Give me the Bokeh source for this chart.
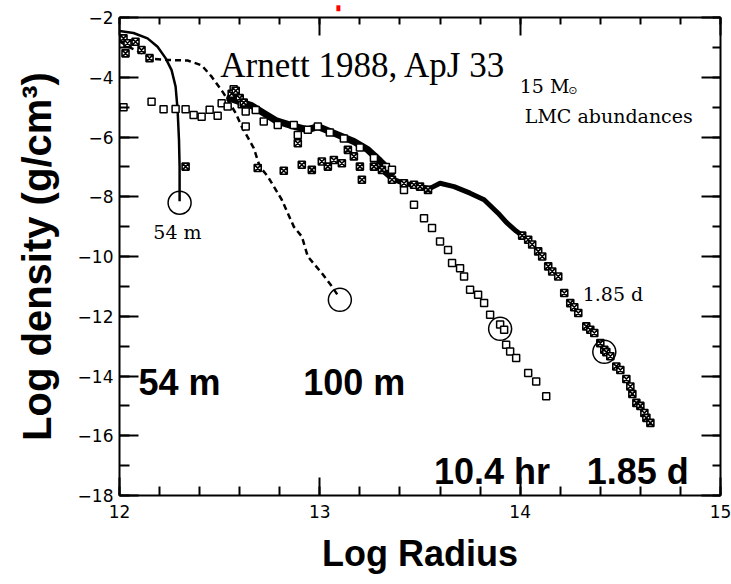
from bokeh.plotting import figure
from bokeh.models import LinearAxis, SingleIntervalTicker, Label, CustomJSTickFormatter, Title
from bokeh.embed import file_html
from bokeh.resources import INLINE

# ---- data (log radius, log density) ----
# 54 m profile (solid line)
r54_x = [12.00, 12.07, 12.14, 12.19, 12.23, 12.26, 12.28, 12.29, 12.297, 12.30, 12.30]
r54_y = [-2.45, -2.52, -2.70, -2.98, -3.36, -3.76, -4.31, -5.09, -6.10, -7.00, -8.15]

# 100 m profile (dashed line)
r100_x = [12.00, 12.05, 12.10, 12.16, 12.24, 12.34, 12.41, 12.46, 12.52, 12.58, 12.61,
          12.67, 12.70, 12.74, 12.81, 12.87, 12.91, 12.94, 13.01, 13.06, 13.09]
r100_y = [-2.80, -3.00, -3.15, -3.38, -3.42, -3.44, -3.60, -3.98, -4.54, -5.20, -5.65,
          -6.37, -6.99, -7.32, -8.10, -9.00, -9.33, -10.00, -10.56, -11.00, -11.30]

# 10.4 hr profile (open squares)
hr_x = [12.02, 12.16, 12.22, 12.28, 12.33, 12.37, 12.41, 12.45, 12.49, 12.51, 12.54, 12.57,
        12.58, 12.61, 12.63, 12.63, 12.68, 12.72, 12.79, 12.87, 12.89, 12.94, 12.99, 13.05,
        13.12, 13.20, 13.27, 13.33, 13.36, 13.42, 13.47, 13.52, 13.56, 13.60, 13.64, 13.66,
        13.70, 13.72, 13.75, 13.79, 13.82, 13.85, 13.90, 13.92, 13.93, 13.95, 13.98, 14.04,
        14.08, 14.13]
hr_y = [-5.00, -4.82, -5.07, -5.06, -5.07, -5.26, -5.32, -5.09, -5.29, -4.87, -4.98, -4.40,
        -4.54, -4.90, -5.15, -5.65, -5.10, -5.48, -5.60, -5.60, -5.93, -5.76, -5.65, -5.85,
        -6.05, -6.35, -6.70, -7.00, -7.10, -7.77, -8.27, -8.72, -9.05, -9.50, -9.78, -10.22,
        -10.39, -10.67, -11.11, -11.28, -11.56, -11.95, -12.28, -12.45, -12.95, -13.18, -13.40, -13.90,
        -14.18, -14.68]
# dense part of the 10.4 hr profile
hr_band_x = [12.55, 12.60, 12.66, 12.72, 12.78, 12.86, 12.94, 12.99, 13.07, 13.17, 13.24, 13.30, 13.36]
hr_band_y = [-4.70, -4.82, -4.95, -5.20, -5.45, -5.62, -5.76, -5.65, -5.87, -6.15, -6.43, -6.80, -7.20]

# 1.85 d profile (crossed squares)
d_x = [12.02, 12.03, 12.04, 12.08, 12.11, 12.15, 12.33, 12.56, 12.58, 12.60, 12.62, 12.69,
       12.82, 12.89, 12.91, 12.96, 13.01, 13.04, 13.07, 13.11, 13.14, 13.17, 13.20, 13.21,
       13.27, 13.31, 13.36, 13.42, 13.47, 13.50, 13.54, 14.01, 14.04, 14.06, 14.09, 14.11,
       14.14, 14.16, 14.19, 14.22, 14.25, 14.27, 14.29, 14.33, 14.35, 14.37, 14.40, 14.42,
       14.43, 14.45, 14.48, 14.50, 14.53, 14.55, 14.56, 14.58, 14.60, 14.62, 14.63, 14.65]
d_y = [-2.70, -3.20, -2.86, -2.81, -3.09, -3.36, -6.99, -4.55, -4.45, -4.70, -4.85, -7.04,
       -7.13, -6.21, -6.93, -7.10, -6.82, -6.99, -6.77, -6.88, -6.43, -6.65, -6.99, -7.43,
       -6.99, -7.10, -7.43, -7.55, -7.60, -7.66, -7.77, -9.30, -9.44, -9.60, -9.83, -10.00,
       -10.33, -10.50, -10.67, -11.22, -11.56, -11.70, -11.89, -12.34, -12.45, -12.56, -12.90, -13.12,
       -13.20, -13.34, -13.68, -13.80, -14.10, -14.35, -14.60, -14.90, -15.00, -15.24, -15.40, -15.57]
# dense part of the 1.85 d profile
d_band_x = [13.30, 13.36, 13.42, 13.50, 13.55, 13.60, 13.67, 13.75, 13.82, 13.89, 13.93, 13.98, 14.02]
d_band_y = [-7.05, -7.40, -7.55, -7.66, -7.72, -7.55, -7.66, -7.88, -8.10, -8.55, -8.85, -9.15, -9.35]

# photosphere markers (circles)
circ_x = [12.30, 13.10, 13.90, 14.42]
circ_y = [-8.20, -11.45, -12.42, -13.19]

# axis settings
x_ticks_interval = 1
y_ticks_interval = 2

p = figure(width=731, height=584, x_range=(12, 15), y_range=(-18, -2),
           output_backend="svg", toolbar_location=None,
           min_border_left=118, min_border_right=11, min_border_top=17, min_border_bottom=88,
           x_axis_location=None, y_axis_location=None)
p.xgrid.visible = False
p.ygrid.visible = False
p.outline_line_color = None
p.background_fill_color = "white"
p.border_fill_color = "white"

minus_fmt = CustomJSTickFormatter(code="return tick < 0 ? '\\u2212' + Math.abs(tick) : String(tick);")
blank_fmt = CustomJSTickFormatter(code="return '';")


def make_axis(interval, minor, fmt, maj_in, min_in, show_labels):
    ax = LinearAxis(ticker=SingleIntervalTicker(interval=interval, num_minor_ticks=minor),
                    formatter=fmt)
    ax.axis_line_width = 2
    ax.axis_line_color = "black"
    ax.major_tick_in = maj_in
    ax.major_tick_out = 0
    ax.minor_tick_in = min_in
    ax.minor_tick_out = 0
    ax.major_tick_line_width = 2
    ax.minor_tick_line_width = 2
    if show_labels:
        ax.major_label_text_font = "DejaVu Sans"
        ax.major_label_text_font_size = "17px"
        ax.major_label_text_color = "black"
    else:
        ax.major_label_text_font_size = "1px"
        ax.major_label_standoff = 0
    return ax


left = make_axis(y_ticks_interval, 2, minus_fmt, 19, 10, True)
left.major_label_standoff = 6
bottom = make_axis(x_ticks_interval, 5, minus_fmt, 18, 9, True)
bottom.major_label_standoff = 9
top = make_axis(x_ticks_interval, 5, blank_fmt, 18, 7, False)
right = make_axis(y_ticks_interval, 2, blank_fmt, 19, 8, False)
p.add_layout(left, "left")
p.add_layout(bottom, "below")
p.add_layout(top, "above")
p.add_layout(right, "right")

# axis titles and the red mark at the top edge
p.add_layout(Title(text="Log Radius", text_font="Liberation Sans", text_font_size="36px",
                   text_font_style="bold", text_color="black", align="center",
                   offset=6, standoff=21), "below")
p.add_layout(Title(text="Log density (g/cm\u00b3)", text_font="Liberation Sans",
                   text_font_size="40px", text_font_style="bold", text_color="black",
                   align="center", vertical_align="top", offset=-34, standoff=28), "left")
p.add_layout(Title(text="\u2588", text_font="DejaVu Sans", text_font_size="5px",
                   text_color="red", align="left", vertical_align="top",
                   offset=217, standoff=9), "above")

# dense bands
p.line(hr_band_x, hr_band_y, line_color="black", line_width=7, line_join="round", line_cap="round")
p.line(d_band_x, d_band_y, line_color="black", line_width=5, line_join="round", line_cap="round")

# profiles
p.line(r54_x, r54_y, line_color="black", line_width=2.5)
p.line(r100_x, r100_y, line_color="black", line_width=2.5, line_dash="6 4")
p.scatter(hr_x, hr_y, marker="square", size=7, fill_color="white", line_color="black", line_width=1.5)
p.scatter(d_x, d_y, marker="square_x", size=7, fill_color="white", line_color="black", line_width=1.6)
p.scatter(circ_x, circ_y, marker="circle", size=23, fill_color=None, line_color="black", line_width=1.5)


def lab(x, y, text, font, size, style="normal", color="black", align="left", **kw):
    p.add_layout(Label(x=x, y=y, text=text, text_font=font, text_font_size=size,
                       text_font_style=style, text_color=color, text_align=align,
                       text_baseline="alphabetic", **kw))


# scanned figure annotations
lab(12.503, -3.603, "Arnett 1988, ApJ 33", "Liberation Serif", "35px")
lab(13.998, -4.305, "15 M", "DejaVu Serif", "19px")
lab(14.24, -4.438, "\u2299", "DejaVu Sans", "11px")
lab(14.023, -5.307, "LMC abundances", "DejaVu Serif", "19px")
lab(12.169, -9.181, "54  m", "DejaVu Serif", "19px")
lab(14.312, -11.252, "1.85 d", "DejaVu Serif", "19px")

# overlay labels
lab(12.095, -14.224, "54 m", "Liberation Sans", "36px", "bold")
lab(12.917, -14.224, "100 m", "Liberation Sans", "36px", "bold")
lab(13.570, -17.197, "10.4 hr", "Liberation Sans", "36px", "bold")
lab(14.332, -17.197, "1.85 d", "Liberation Sans", "36px", "bold")

open("out.html", "w").write(file_html(p, INLINE))
